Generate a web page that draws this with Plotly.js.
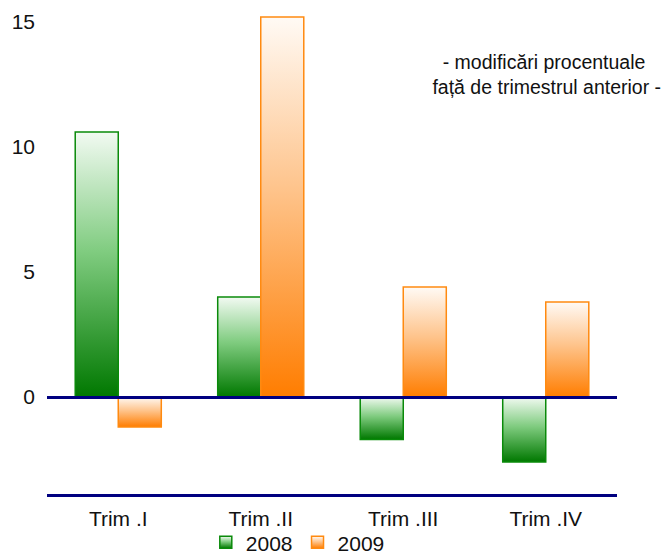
<!DOCTYPE html>
<html>
<head>
<meta charset="utf-8">
<script src="https://cdn.plot.ly/plotly-3.0.1.min.js"></script>
<style>
  html, body { margin: 0; padding: 0; background: #fff; }
  #chart { width: 672px; height: 555px; }
</style>
</head>
<body>
<div id="chart"></div>
<script>
const categories = ['Trim .I', 'Trim .II', 'Trim .III', 'Trim .IV'];
const values2008 = [10.6, 4.0, -1.7, -2.6];
const values2009 = [-1.2, 15.2, 4.4, 3.8];
const seriesNames = ['2008', '2009'];
const yTicks = [0, 5, 10, 15];
const noteText = '- modificări procentuale<br> față de trimestrul anterior -';

const gradients = [
  { id: 'grad2008', stops: [[0, '#f2faf2'], [0.45, '#80cc80'], [1, '#007800']], line: '#0a8a0a' },
  { id: 'grad2009', stops: [[0, '#fffaf5'], [0.45, '#fec48c'], [1, '#ff7d00']], line: '#ff8a10' }
];

const data = [
  {
    type: 'bar', name: seriesNames[0], x: categories, y: values2008,
    marker: { color: '#5cb85c', line: { color: gradients[0].line, width: 1.5 } }
  },
  {
    type: 'bar', name: seriesNames[1], x: categories, y: values2009,
    marker: { color: '#ffb060', line: { color: gradients[1].line, width: 1.5 } }
  }
];

const font = { family: '"Liberation Sans", Arial, sans-serif', color: '#111', size: 21 };

const layout = {
  width: 672, height: 555,
  margin: { l: 47, r: 55, t: 7, b: 61, autoexpand: false },
  paper_bgcolor: '#fff', plot_bgcolor: '#fff',
  font: font,
  barmode: 'group', bargap: 0.396, bargroupgap: 0,
  showlegend: true,
  legend: {
    orientation: 'h', x: 0.44, xanchor: 'center', y: -0.1, yanchor: 'middle',
    bgcolor: 'rgba(0,0,0,0)',
    font: { family: font.family, size: 21, color: '#111' },
    itemwidth: 30, tracegroupgap: 0, traceorder: 'normal'
  },
  xaxis: {
    type: 'category', range: [-0.5, 3.5],
    showline: true, linecolor: '#000080', linewidth: 3,
    showgrid: false, zeroline: false, ticks: '',
    ticklabelstandoff: 4,
    tickfont: { family: font.family, size: 21, color: '#111' },
    fixedrange: true
  },
  yaxis: {
    range: [-3.88, 15.6],
    tickvals: yTicks, ticktext: yTicks.map(String),
    showline: false, showgrid: false, ticks: '',
    zeroline: true, zerolinecolor: '#000080', zerolinewidth: 3,
    zerolinelayer: 'above traces',
    ticklabelstandoff: 11,
    tickfont: { family: font.family, size: 21, color: '#111' },
    fixedrange: true
  },
  annotations: [{
    xref: 'paper', yref: 'paper', x: 0.872, y: 0.862,
    xanchor: 'center', yanchor: 'middle', align: 'center',
    text: noteText, showarrow: false,
    font: { family: font.family, size: 19.5, color: '#111' }
  }]
};

function applyGradients(gd) {
  const svg = gd.querySelector('.main-svg');
  let defs = svg.querySelector('defs');
  if (!defs) { defs = document.createElementNS('http://www.w3.org/2000/svg', 'defs'); svg.insertBefore(defs, svg.firstChild); }
  gradients.forEach(g => {
    const lg = document.createElementNS('http://www.w3.org/2000/svg', 'linearGradient');
    lg.setAttribute('id', g.id);
    lg.setAttribute('x1', '0'); lg.setAttribute('y1', '0');
    lg.setAttribute('x2', '0'); lg.setAttribute('y2', '1');
    g.stops.forEach(([o, c]) => {
      const s = document.createElementNS('http://www.w3.org/2000/svg', 'stop');
      s.setAttribute('offset', o); s.setAttribute('stop-color', c);
      lg.appendChild(s);
    });
    defs.appendChild(lg);
  });
  gd.querySelectorAll('.barlayer .trace').forEach((tr, i) => {
    tr.querySelectorAll('.point path').forEach(p => { p.style.fill = 'url(#' + gradients[i].id + ')'; });
  });
  gd.querySelectorAll('.legend .traces').forEach((tr, i) => {
    tr.querySelectorAll('.legendpoints path').forEach(p => { p.style.fill = 'url(#' + gradients[i].id + ')'; });
  });
}

Plotly.newPlot('chart', data, layout, { staticPlot: true, displayModeBar: false }).then(applyGradients);
</script>
</body>
</html>
